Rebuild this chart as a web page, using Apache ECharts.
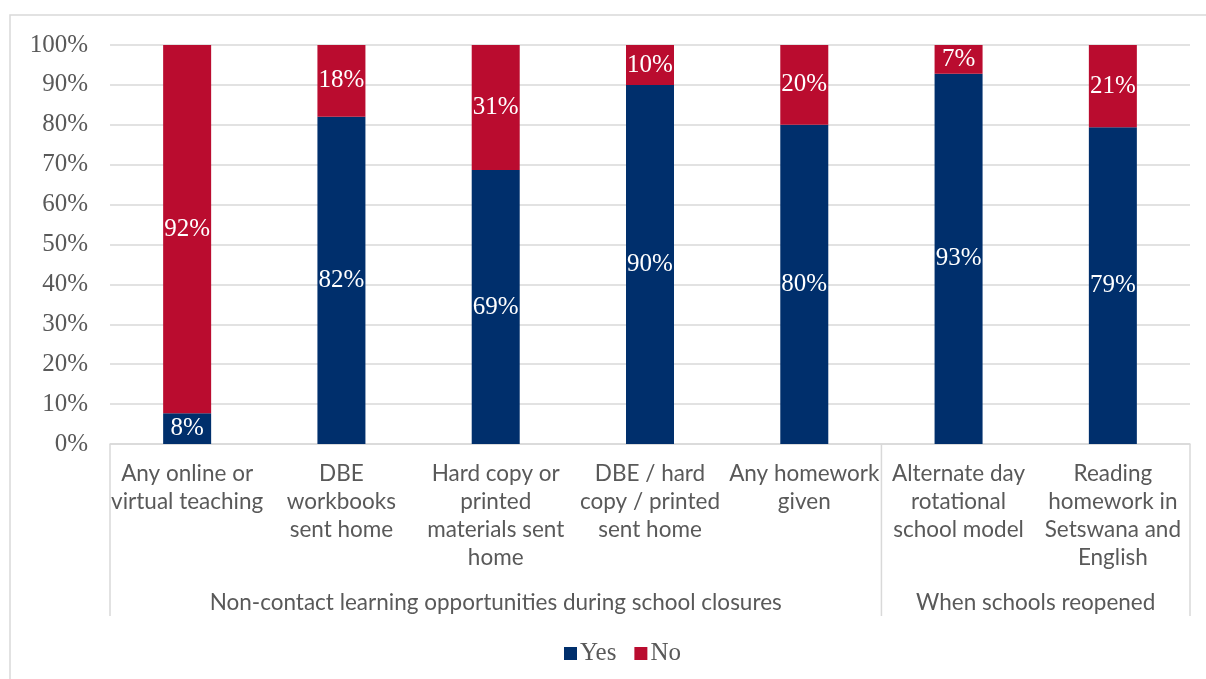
<!DOCTYPE html>
<html>
<head>
<meta charset="utf-8">
<script src="https://cdn.jsdelivr.net/npm/echarts@6/dist/echarts.min.js"></script>
<style>
  html, body { margin: 0; padding: 0; background: #fff; }
  #chart { width: 1206px; height: 679px; }
</style>
</head>
<body>
<div id="chart"></div>
<script>
const categories = [
  "Any online or\nvirtual teaching",
  "DBE\nworkbooks\nsent home",
  "Hard copy or\nprinted\nmaterials sent\nhome",
  "DBE / hard\ncopy / printed\nsent home",
  "Any homework\ngiven",
  "Alternate day\nrotational\nschool model",
  "Reading\nhomework in\nSetswana and\nEnglish"
];
const yesValues = [7.7, 82, 68.7, 90, 80, 92.8, 79.4];
const noValues = [92.3, 18, 31.3, 10, 20, 7.2, 20.6];
// group label, first index, last index
const groups = [
  ["Non-contact learning opportunities during school closures", 0, 4],
  ["When schools reopened", 5, 6]
];

const textGray = "#595959";
const lineGray = "#d9d9d9";
const serif = "Liberation Serif";
const sans = "Lato";

const chart = echarts.init(document.getElementById("chart"));

const grid = { left: 110, right: 16, top: 45, bottom: 235 };

const labelStyle = {
  show: true,
  position: "inside",
  color: "#fff",
  fontFamily: serif,
  fontSize: 25,
  formatter: p => Math.round(p.value) + "%"
};

const option = {
  animation: false,
  grid: grid,
  legend: {
    bottom: 8,
    left: 559,
    itemWidth: 13,
    itemHeight: 13,
    itemGap: 18,
    icon: "rect",
    textStyle: { color: textGray, fontFamily: serif, fontSize: 25, padding: [0, 0, 0, -2] },
    data: ["Yes", "No"]
  },
  xAxis: {
    type: "category",
    data: categories,
    axisTick: { show: false },
    axisLine: { lineStyle: { color: lineGray, width: 1.5 } },
    axisLabel: {
      color: textGray,
      fontFamily: sans,
      fontSize: 22.5,
      lineHeight: 28,
      margin: 16,
      interval: 0,
      verticalAlign: "top"
    }
  },
  yAxis: {
    type: "value",
    min: 0,
    max: 100,
    interval: 10,
    axisLine: { show: false },
    axisTick: { show: false },
    splitLine: { lineStyle: { color: lineGray, width: 1.5 } },
    axisLabel: {
      color: textGray,
      fontFamily: serif,
      fontSize: 25,
      margin: 22,
      formatter: "{value}%"
    }
  },
  series: [
    {
      name: "Yes",
      type: "bar",
      stack: "total",
      barWidth: 48,
      itemStyle: { color: "#002f6c" },
      label: labelStyle,
      data: yesValues
    },
    {
      name: "No",
      type: "bar",
      stack: "total",
      barWidth: 48,
      itemStyle: { color: "#ba0c2f" },
      label: labelStyle,
      data: noValues
    }
  ]
};

chart.setOption(option);

// group separators and group labels below the category labels
const W = chart.getWidth();
const H = chart.getHeight();
const axisY = H - grid.bottom;
const left = grid.left;
const right = W - grid.right;
const step = (right - left) / categories.length;
const sepBottom = 616;
const elements = [
  { type: "rect", shape: { x: 10, y: 15, width: W + 20, height: H + 20 },
    style: { fill: null, stroke: lineGray, lineWidth: 1.5 }, silent: true }
];
const bounds = [left];
groups.forEach(g => bounds.push(left + (g[2] + 1) * step));
bounds.forEach(x => {
  elements.push({
    type: "line",
    shape: { x1: x, y1: axisY, x2: x, y2: sepBottom },
    style: { stroke: lineGray, lineWidth: 1.5 },
    silent: true
  });
});
groups.forEach(g => {
  const cx = left + ((g[1] + g[2] + 1) / 2) * step;
  elements.push({
    type: "text",
    x: cx,
    y: 603,
    style: {
      text: g[0],
      fill: textGray,
      font: "22.5px " + sans,
      align: "center",
      verticalAlign: "middle"
    },
    silent: true
  });
});
chart.setOption({ graphic: { elements: elements } });
</script>
</body>
</html>
